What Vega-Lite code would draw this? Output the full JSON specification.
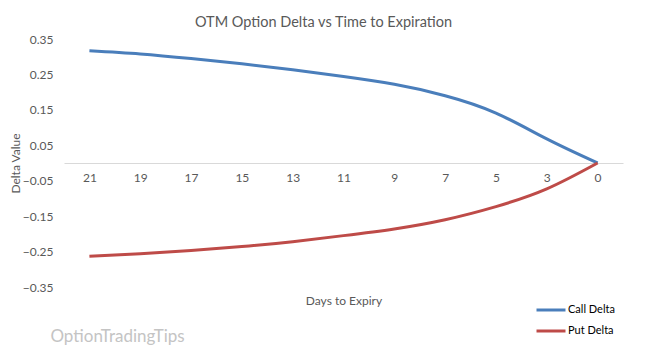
{
  "$schema": "https://vega.github.io/schema/vega-lite/v6.json",
  "autosize": "none",
  "width": 559,
  "height": 248,
  "padding": {"left": 64, "top": 39, "right": 24, "bottom": 75},
  "background": "white",
  "config": {
    "font": "Lato",
    "view": {"stroke": null},
    "axis": {"labelOverlap": false}
  },
  "title": {
    "text": "OTM Option Delta vs Time to Expiration",
    "fontSize": 14.5,
    "fontWeight": "normal",
    "color": "#595959",
    "anchor": "middle",
    "dx": -20,
    "offset": 3
  },
  "data": {
    "values": [
      {"days": 21, "series": "Call Delta", "delta": 0.317},
      {"days": 19, "series": "Call Delta", "delta": 0.308},
      {"days": 17, "series": "Call Delta", "delta": 0.295},
      {"days": 15, "series": "Call Delta", "delta": 0.280},
      {"days": 13, "series": "Call Delta", "delta": 0.263},
      {"days": 11, "series": "Call Delta", "delta": 0.244},
      {"days": 9, "series": "Call Delta", "delta": 0.222},
      {"days": 7, "series": "Call Delta", "delta": 0.190},
      {"days": 5, "series": "Call Delta", "delta": 0.141},
      {"days": 3, "series": "Call Delta", "delta": 0.068},
      {"days": 0, "series": "Call Delta", "delta": 0.0},
      {"days": 21, "series": "Put Delta", "delta": -0.263},
      {"days": 19, "series": "Put Delta", "delta": -0.256},
      {"days": 17, "series": "Put Delta", "delta": -0.247},
      {"days": 15, "series": "Put Delta", "delta": -0.236},
      {"days": 13, "series": "Put Delta", "delta": -0.222},
      {"days": 11, "series": "Put Delta", "delta": -0.205},
      {"days": 9, "series": "Put Delta", "delta": -0.186},
      {"days": 7, "series": "Put Delta", "delta": -0.160},
      {"days": 5, "series": "Put Delta", "delta": -0.123},
      {"days": 3, "series": "Put Delta", "delta": -0.073},
      {"days": 0, "series": "Put Delta", "delta": 0.0}
    ]
  },
  "layer": [
    {
      "mark": {"type": "line", "interpolate": "natural", "strokeWidth": 3},
      "encoding": {
        "x": {
          "field": "days",
          "type": "ordinal",
          "sort": "descending",
          "scale": {"type": "point", "padding": 0.5},
          "axis": {
            "title": "Days to Expiry",
            "offset": -124,
            "labelAngle": 0,
            "ticks": false,
            "domainColor": "#d9d9d9",
            "domainWidth": 1,
            "labelColor": "#595959",
            "labelFontSize": 12,
            "labelPadding": 9,
            "titleColor": "#595959",
            "titleFontSize": 12,
            "titleFontWeight": "normal",
            "titleBaseline": "middle",
            "titleY": 137
          }
        },
        "y": {
          "field": "delta",
          "type": "quantitative",
          "scale": {"domain": [-0.35, 0.35], "nice": false, "zero": false},
          "axis": {
            "title": "Delta Value",
            "values": [-0.35, -0.25, -0.15, -0.05, 0.05, 0.15, 0.25, 0.35],
            "tickCount": 20,
            "format": ".2f",
            "labelOverlap": false,
            "labelBound": false,
            "domain": false,
            "ticks": false,
            "grid": false,
            "labelColor": "#595959",
            "labelFontSize": 12,
            "labelPadding": 11,
            "titleColor": "#595959",
            "titleFontSize": 12,
            "titleFontWeight": "normal",
            "titlePadding": 0
          }
        },
        "color": {
          "field": "series",
          "type": "nominal",
          "scale": {"domain": ["Call Delta", "Put Delta"], "range": ["#4A7EBB", "#BE4B48"]},
          "legend": {
            "title": null,
            "orient": "none",
            "legendX": 471,
            "legendY": 261,
            "direction": "vertical",
            "symbolType": "stroke",
            "symbolSize": 841,
            "symbolStrokeWidth": 3,
            "clipHeight": 20,
            "labelFontSize": 11,
            "labelColor": "#000000",
            "labelOffset": 1,
            "rowPadding": 1
          }
        }
      }
    },
    {
      "data": {"values": [{"brand": "OptionTradingTips"}]},
      "mark": {"type": "text", "fontSize": 17, "color": "#c4c4c4", "align": "left", "baseline": "middle", "dx": -39, "dy": 50},
      "encoding": {
        "text": {"field": "brand"},
        "x": {"datum": 21, "type": "ordinal"},
        "y": {"datum": -0.35}
      }
    }
  ]
}
